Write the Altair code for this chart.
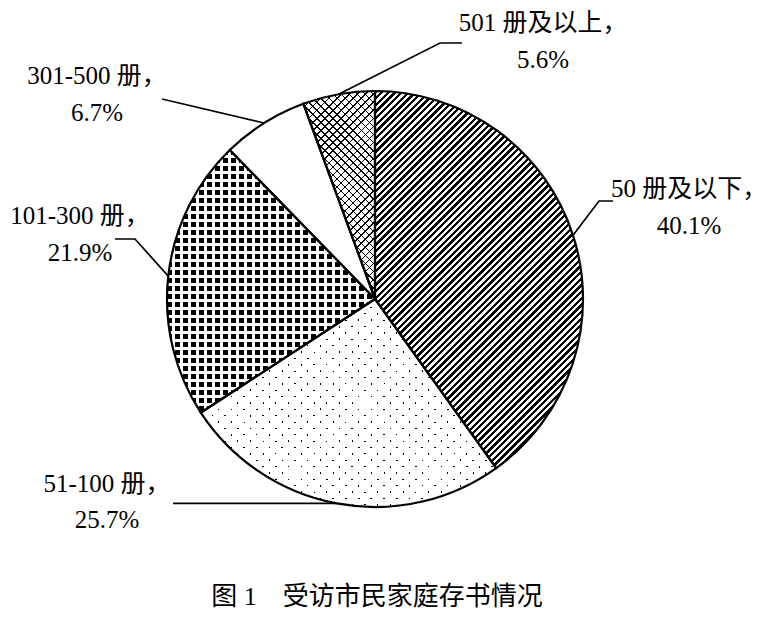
import math
import altair as alt
import pandas as pd

# ---------------- data ----------------
categories = ["50 册及以下", "51-100 册", "101-300 册", "301-500 册", "501 册及以上"]
shares = [40.1, 25.7, 21.9, 6.7, 5.6]
title_text = "图 1　受访市民家庭存书情况"

# ---------------- layout / style ----------------
VIEW_W, VIEW_H = 767, 603          # whole drawing area (page minus 8px margins)
CX, CY = 367, 291                  # pie centre inside the view (pixels)
R = 208                            # pie radius
FONT = "'Liberation Serif', 'Times New Roman', 'Noto Sans CJK SC', serif"

xs = alt.Scale(domain=[-CX, VIEW_W - CX], nice=False, zero=False)
ys = alt.Scale(domain=[CY - VIEW_H, CY], nice=False, zero=False)


def page_to_data(px, py):
    return px - 8 - CX, CY - (py - 8)


# annotation placement (page pixel coordinates), one per slice
label_layout = [
    dict(elbow=(599, 201), end=(613, 201), tx=689, ty=(197, 234)),
    dict(elbow=None, end=(173, None), tx=107, ty=(492, 528)),
    dict(elbow=(135, 239), end=(115, 239), tx=80, ty=(224, 261)),
    dict(elbow=None, end=(162, 99), tx=97, ty=(84, 121)),
    dict(elbow=(440, 43), end=(462, 43), tx=543, ty=(31, 68)),
]

# ---------------- derived slice geometry ----------------
cum = []
acc = 0.0
for v in shares:
    cum.append((acc, acc + v))
    acc += v


def wedge_bbox(a0, a1, r):
    pts = [(0.0, 0.0), (r * math.sin(a0), -r * math.cos(a0)), (r * math.sin(a1), -r * math.cos(a1))]
    for k in range(5):
        ang = k * math.pi / 2
        if a0 < ang < a1:
            pts.append((r * math.sin(ang), -r * math.cos(ang)))
    xs_ = [p[0] for p in pts]
    ys_ = [p[1] for p in pts]
    return max(xs_) - min(xs_), max(ys_) - min(ys_)


def stripe_gradient(direction, period, on_width, bw, bh, on_color, off_color):
    r = bh / bw
    s = (1 + r) / (1 + r * r)
    if direction == "/":
        coords = dict(x1=0, y1=0, x2=s, y2=s * r)
        span = (bw + bh) / math.sqrt(2)
    elif direction == "\\":
        coords = dict(x1=0, y1=1, x2=s, y2=1 - s * r)
        span = (bw + bh) / math.sqrt(2)
    elif direction == "|":
        coords = dict(x1=0, y1=0, x2=1, y2=0)
        span = bw
    else:
        coords = dict(x1=0, y1=0, x2=0, y2=1)
        span = bh
    P = period / span
    on = on_width / span
    stops = []
    k = 0
    while k * P < 1:
        a = k * P
        b = min(a + on, 1.0)
        c = min((k + 1) * P, 1.0)
        stops += [(a, on_color), (b, on_color), (b, off_color), (c, off_color)]
        k += 1
    return {"gradient": "linear", **coords,
            "stops": [{"offset": round(o, 5), "color": col} for o, col in stops]}


BLACK = "#000000"
WHITE = "#ffffff"
CLEAR = "rgba(255,255,255,0)"

fills = []
for i, (s0, s1) in enumerate(cum):
    a0, a1 = 2 * math.pi * s0 / 100, 2 * math.pi * s1 / 100
    bw, bh = wedge_bbox(a0, a1, R)
    if i == 0:      # diagonal hatching
        fills.append([stripe_gradient("/", 4.7, 2.3, bw, bh, BLACK, WHITE)])
    elif i == 1:    # fine dots
        fills.append([stripe_gradient("/", 9.0, 1.3, bw, bh, BLACK, WHITE),
                      stripe_gradient("\\", 9.0, 1.3, bw, bh, CLEAR, WHITE)])
    elif i == 2:    # checker of small black blocks
        fills.append([stripe_gradient("|", 8.0, 5.2, bw, bh, BLACK, WHITE),
                      stripe_gradient("-", 8.0, 5.2, bw, bh, CLEAR, WHITE)])
    elif i == 3:    # plain white
        fills.append([WHITE])
    else:           # thin cross hatching
        fills.append([stripe_gradient("/", 5.7, 1.0, bw, bh, BLACK, WHITE),
                      stripe_gradient("\\", 5.7, 1.0, bw, bh, BLACK, CLEAR)])

df = pd.DataFrame({"cat": categories, "share": shares, "idx": list(range(len(categories)))})

base = (
    alt.Chart(df)
    .transform_window(cum="sum(share)", sort=[alt.SortField("idx")], frame=[None, 0])
    .transform_calculate(start="datum.cum - datum.share")
)

theta_kw = dict(
    theta=alt.Theta("start:Q", scale=alt.Scale(domain=[0, 100], range=[0, 2 * math.pi])),
    theta2=alt.Theta2("cum:Q"),
    x=alt.XDatum(0, scale=xs, axis=None),
    y=alt.YDatum(0, scale=ys, axis=None),
)

layers = []
for depth in range(2):
    for i, fl in enumerate(fills):
        if depth < len(fl):
            layers.append(
                base.transform_filter(alt.datum.idx == i)
                .mark_arc(radius=R, fill=fl[depth], strokeWidth=0)
                .encode(**theta_kw)
            )

layers.append(
    base.mark_arc(radius=R, fill=WHITE, fillOpacity=0, stroke=BLACK, strokeWidth=2.2)
    .encode(**theta_kw)
)

# leader lines and labels
line_rows = []
text_rows = []
for i, ((s0, s1), lay) in enumerate(zip(cum, label_layout)):
    mid = 2 * math.pi * (s0 + s1) / 2 / 100
    sx, sy = R * math.sin(mid), R * math.cos(mid)
    pts = [(sx, sy)]
    if lay["elbow"] is not None:
        pts.append(page_to_data(*lay["elbow"]))
    ex, ey = lay["end"]
    if ey is None:
        pts.append((page_to_data(ex, 0)[0], sy))
    else:
        pts.append(page_to_data(ex, ey))
    for k, (px, py) in enumerate(pts):
        line_rows.append({"lid": i, "ord": k, "x": px, "y": py})
    lines_txt = [categories[i] + "，", f"{shares[i]}%"]
    for t, by in zip(lines_txt, lay["ty"]):
        dx, dy = page_to_data(lay["tx"], by)
        text_rows.append({"x": dx, "y": dy, "t": t})

leaders = (
    alt.Chart(pd.DataFrame(line_rows))
    .mark_line(color=BLACK, strokeWidth=1.7)
    .encode(
        x=alt.X("x:Q", scale=xs, axis=None),
        y=alt.Y("y:Q", scale=ys, axis=None),
        detail="lid:N",
        order="ord:Q",
    )
)
layers.append(leaders)

labels = (
    alt.Chart(pd.DataFrame(text_rows))
    .mark_text(font=FONT, fontSize=25, align="center", baseline="alphabetic", color=BLACK)
    .encode(
        x=alt.X("x:Q", scale=xs, axis=None),
        y=alt.Y("y:Q", scale=ys, axis=None),
        text="t:N",
    )
)
layers.append(labels)

tx, ty = page_to_data(377, 605)
title = (
    alt.Chart(pd.DataFrame({"x": [tx], "y": [ty], "t": [title_text]}))
    .mark_text(font=FONT, fontSize=26, align="center", baseline="alphabetic", color=BLACK)
    .encode(
        x=alt.X("x:Q", scale=xs, axis=None),
        y=alt.Y("y:Q", scale=ys, axis=None),
        text="t:N",
    )
)
layers.append(title)

chart = (
    alt.layer(*layers)
    .properties(
        width=VIEW_W,
        height=VIEW_H,
        padding=0,
        autosize=alt.AutoSizeParams(type="none"),
        background="white",
    )
    .configure_view(stroke=None)
)

chart.save("out.html", embed_options={"renderer": "svg", "actions": False})
